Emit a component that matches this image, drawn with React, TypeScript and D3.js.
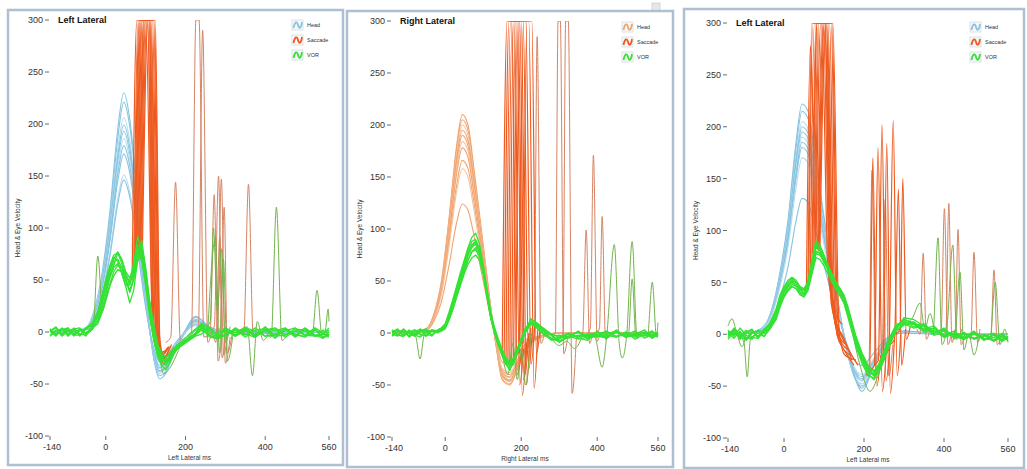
import React from "react";
import * as d3 from "d3";

type Pt = [number, number];

// shared time grids (ms)
const HEAD_T = [-140, -80, -50, -30, -10, 10, 30, 45, 60, 75, 90, 105, 120, 135, 150, 170, 195, 225, 260, 300, 400, 560];
const VOR_T = [-140, -125, -110, -95, -80, -65, -50, -35, -20, -10, 0, 10, 20, 30, 40, 50, 60, 70, 80, 90, 100, 110, 120, 130, 140, 150, 160, 170, 180, 195, 210, 225, 240, 260, 280, 300, 325, 350, 375, 400, 425, 450, 475, 500, 525, 545, 560];
const X_TICKS = [-140, 0, 200, 400, 560];
const Y_TICKS = [-100, -50, 0, 50, 100, 150, 200, 250, 300];
const LEGEND = ["Head", "Saccade", "VOR"];

// ---- panel 1 : Left Lateral ----
const head1 = [
  [0, 1, 4, 20, 55, 115, 195, 230, 205, 150, 80, 20, -25, -45, -40, -22, -3, 10, 4, 0, -1, 0],
  [0, 0, 3, 18, 52, 108, 186, 221, 198, 146, 76, 18, -24, -42, -38, -20, -2, 14, 5, 0, 0, 0],
  [0, 1, 4, 19, 50, 103, 176, 206, 184, 135, 70, 17, -22, -40, -35, -19, -3, 9, 3, 0, -1, 0],
  [0, 1, 3, 17, 48, 100, 169, 199, 178, 130, 69, 16, -21, -38, -34, -18, -3, 8, 3, 0, 0, 0],
  [0, 0, 3, 16, 46, 97, 164, 193, 172, 126, 66, 16, -20, -37, -33, -18, -2, 11, 4, 0, -1, 0],
  [0, 1, 3, 16, 44, 93, 158, 186, 166, 122, 64, 15, -20, -35, -31, -17, -2, 8, 3, 0, 0, 0],
  [0, 1, 3, 15, 42, 90, 152, 179, 160, 117, 61, 15, -19, -34, -30, -16, -2, 7, 2, 0, -1, 0],
  [0, 1, 3, 15, 40, 86, 145, 171, 153, 112, 58, 14, -18, -32, -29, -15, -2, 12, 4, 0, 0, 0],
  [0, 1, 2, 13, 36, 76, 128, 151, 135, 99, 52, 13, -16, -29, -26, -14, -2, 6, 2, 0, 0, 0],
  [0, 1, 2, 12, 34, 72, 123, 146, 130, 95, 50, 12, -15, -28, -25, -13, -1, 15, 5, 0, 0, 0],
];
const vor1 = [
  [0, 4, -3, 2, -4, 3, -1, 4, 15, 28, 42, 58, 68, 70, 62, 48, 45, 60, 82, 72, 48, 20, -2, -18, -25, -27, -24, -18, -14, -10, -6, -2, 5, -3, -6, 2, -4, 3, -5, 2, -6, 3, -4, 4, -3, -6, 0],
  [3, -3, 4, -2, 3, -4, 4, 8, 20, 35, 50, 64, 74, 76, 66, 52, 40, 52, 75, 88, 62, 28, 4, -14, -22, -30, -28, -20, -12, -8, -2, 3, 8, 4, -2, 4, -1, 4, -3, 5, -4, 3, -2, -5, 2, -2, 4],
  [-4, 1, 3, -3, 4, -2, -3, 2, 12, 22, 36, 52, 62, 66, 58, 44, 28, 40, 70, 80, 58, 26, 0, -20, -30, -32, -26, -19, -15, -11, -5, -1, 8, -1, -5, 4, -3, 2, -4, 1, 3, -5, 1, -3, 4, -1, -4],
  [1, 5, -2, 4, -3, -3, 3, 7, 18, 32, 48, 62, 72, 68, 56, 44, 50, 66, 92, 78, 50, 16, -6, -22, -28, -26, -20, -16, -12, -9, -7, -3, 4, -5, -6, -2, 3, -5, 2, 3, -4, -3, 3, 1, -4, -2, 2],
  [3, -3, 2, 4, -2, 3, -4, 6, 14, 26, 40, 55, 64, 76, 70, 56, 48, 55, 76, 70, 44, 14, -8, -24, -32, -36, -30, -22, -16, -10, -4, 2, 6, 1, -3, -4, 4, -2, -5, 3, 1, 4, -3, -4, 3, -6, -2],
  [-3, 2, -4, 1, 3, 4, -2, 4, 10, 20, 32, 46, 58, 64, 62, 54, 46, 58, 78, 84, 60, 30, 6, -12, -20, -24, -22, -17, -13, -9, -6, -2, 3, 3, -4, 1, -3, 4, 1, -4, -2, 3, -5, 2, -3, -4, -5],
  [2, -2, 3, -4, 1, -3, 4, 6, 16, 30, 46, 60, 70, 77, 70, 58, 52, 62, 84, 80, 54, 22, -4, -20, -27, -29, -25, -19, -15, -11, -7, -3, 2, -3, -7, -3, 2, -3, 4, -4, -3, 1, 4, -3, -4, 2, -3],
  [1, -4, 3, 2, -3, 1, 3, 3, 8, 18, 30, 44, 54, 60, 58, 50, 38, 50, 68, 74, 52, 24, 2, -16, -24, -28, -26, -20, -16, -12, -8, -4, -2, 4, -4, 2, -4, 1, -3, 2, 4, -3, 1, 3, -4, -2, -4],
];
const saccade1: Pt[][] = [
  [[66, 50], [78, 300], [100, 300], [118, 0], [132, -20], [150, -18]],
  [[70, 58], [81, 300], [104, 300], [122, 0], [136, -25], [155, -15]],
  [[72, 62], [84, 300], [108, 300], [124, 10], [134, -22], [150, -20]],
  [[74, 66], [86, 300], [110, 300], [126, 0], [138, -28], [160, -16]],
  [[76, 70], [88, 300], [112, 300], [128, 5], [140, -20], [158, -14]],
  [[78, 75], [90, 300], [114, 300], [129, -5], [140, -26], [165, -18]],
  [[80, 80], [92, 300], [117, 300], [131, 0], [142, -22], [160, -14]],
  [[82, 78], [95, 300], [120, 300], [133, -10], [145, -30], [170, -15]],
  [[84, 72], [96, 300], [122, 300], [135, -5], [146, -24], [165, -12]],
  [[86, 80], [98, 300], [124, 300], [136, -12], [150, -28], [175, -15]],
  [[88, 70], [100, 300], [106, 300], [116, 20], [130, -18]],
  [[90, 76], [103, 300], [109, 300], [119, 0], [133, -24]],
  [[92, 80], [106, 300], [111, 300], [121, -8], [138, -20]],
];
const thinSaccade1: Pt[][] = [
  [[150, -10], [163, -5], [175, 144], [187, -8], [200, -5]],
  [[205, -3], [215, 0], [226, 300], [234, 300], [246, -5], [258, -2]],
  [[222, 2], [232, 0], [243, 290], [256, -10], [266, 0]],
  [[252, -5], [262, 0], [272, 132], [282, -28], [292, 0]],
  [[262, 0], [272, 5], [283, 150], [292, -25], [300, -5]],
  [[270, -5], [280, 0], [290, 147], [300, -30], [312, -5]],
  [[278, 0], [288, 5], [297, 120], [305, -20], [318, 0]],
  [[268, 0], [276, -10], [286, 92], [296, -22], [306, 0]],
  [[335, 0], [346, -3], [358, 142], [370, -5], [385, 0]],
];
const olive1: Pt[][] = [
  [[-50, 0], [-32, 3], [-20, 73], [-8, 20], [5, 45], [20, 65]],
  [[240, 0], [262, 10], [270, 100], [280, 20], [290, 80], [300, -10], [312, 5]],
  [[255, -5], [275, 90], [285, -20], [295, 70], [305, -28], [320, 0]],
  [[330, 0], [355, 5], [368, -42], [380, 10], [395, -8], [410, 0]],
  [[400, 0], [415, -5], [428, 120], [442, -8], [460, 0]],
  [[505, 0], [518, -3], [530, 40], [542, -2], [550, 0], [558, 22], [560, 10]],
  [[90, 70], [110, 30], [130, -10], [145, -40], [160, -35], [185, -15]],
];

// ---- panel 2 : Right Lateral ----
const head2 = [
  [0, 1, 4, 18, 50, 110, 180, 210, 200, 160, 115, 70, 25, -15, -45, -50, -30, -10, -3, 0, 0, 0],
  [0, 1, 4, 17, 48, 107, 176, 205, 195, 156, 112, 68, 24, -14, -44, -49, -29, -10, -3, 0, 0, 0],
  [0, 1, 3, 17, 47, 104, 171, 200, 190, 152, 109, 66, 23, -14, -42, -47, -28, -9, -3, 0, 0, 0],
  [0, 0, 3, 16, 46, 102, 167, 195, 185, 148, 106, 64, 22, -13, -41, -46, -27, -9, -2, 0, 0, 0],
  [0, 1, 3, 16, 45, 99, 163, 190, 180, 144, 103, 62, 21, -13, -40, -45, -26, -9, -2, 0, 0, 0],
  [0, 1, 3, 15, 43, 96, 158, 184, 175, 140, 100, 60, 20, -12, -39, -43, -25, -8, -2, 0, 0, 0],
  [0, 1, 3, 15, 42, 93, 153, 178, 169, 135, 97, 58, 19, -12, -38, -42, -24, -8, -2, 0, 0, 0],
  [0, 0, 3, 14, 39, 87, 142, 166, 158, 127, 91, 55, 18, -11, -36, -40, -23, -8, -2, 0, 0, 0],
  [0, 1, 3, 13, 37, 83, 136, 158, 150, 120, 86, 52, 17, -10, -34, -38, -22, -7, -2, 0, 0, 0],
  [0, 0, 2, 11, 30, 65, 106, 124, 118, 95, 68, 41, 14, -8, -28, -31, -18, -6, -2, 0, 0, 0],
];
const vor2 = [
  [0, 3, -3, 1, 3, -2, 1, 3, 2, 3, 6, 16, 28, 40, 52, 64, 76, 85, 88, 80, 62, 38, 16, 2, -10, -20, -28, -30, -26, -12, 2, 10, 8, 2, -6, -8, -3, -6, -4, -1, -5, 2, -4, -2, 0, -5, -1],
  [3, -2, 4, -1, -3, 2, 4, -2, 3, 5, 9, 20, 32, 45, 58, 70, 82, 92, 96, 86, 66, 40, 18, 4, -8, -18, -26, -32, -28, -14, 0, 14, 10, 3, -2, -8, -4, 2, -5, -2, 2, -4, 1, -6, -1, 2, -3],
  [-3, 1, 3, -4, 1, 4, -3, 2, 0, 2, 4, 12, 22, 34, 46, 58, 70, 78, 82, 76, 60, 36, 14, 0, -12, -22, -30, -36, -27, -10, 4, 11, 5, -2, -7, -4, 0, -5, -7, 2, -5, 3, -4, -1, 3, -5, 0],
  [1, 4, -2, 3, -3, 1, 3, -3, 3, 4, 8, 18, 30, 42, 55, 68, 80, 88, 90, 82, 64, 40, 17, 3, -9, -19, -27, -29, -24, -10, 3, 12, 9, 4, -2, -9, -3, 1, -6, -2, 1, -3, -2, 2, -5, -1, -3],
  [3, -2, -3, 2, -2, -4, 2, 1, 1, 2, 5, 14, 25, 36, 48, 60, 70, 78, 80, 74, 58, 36, 15, 1, -11, -21, -29, -31, -25, -11, 1, 9, 7, -1, -5, -5, -1, -4, -1, -3, -3, 1, -2, -4, 1, -4, -2],
  [-2, 2, 1, -3, 3, -1, -3, 3, 1, 4, 7, 17, 29, 41, 54, 66, 78, 84, 86, 78, 60, 37, 15, 2, -10, -20, -27, -28, -24, -12, 2, 10, 8, 3, -3, -2, -4, 1, -3, -4, -1, 2, -3, -2, 1, -2, -4],
  [2, -2, -3, 2, -1, 3, -2, -2, 2, 3, 6, 15, 26, 38, 50, 62, 74, 82, 86, 80, 64, 42, 20, 5, -6, -16, -24, -28, -26, -14, 0, 8, 6, 1, -6, -6, -1, -4, -2, -3, -5, 1, -4, 0, -3, 1, -2],
  [-1, -3, 2, 1, -2, 3, 0, 2, 2, 3, 5, 13, 24, 35, 46, 57, 66, 72, 75, 70, 56, 34, 14, 0, -12, -22, -30, -34, -30, -14, 0, 9, 10, 4, -1, -4, -5, -2, -3, 1, -2, -4, 1, -3, -2, -3, 1],
];
const saccade2: Pt[][] = [
  [[150, -20], [163, 300], [175, 300], [190, -40], [200, -20]],
  [[155, -25], [168, 300], [182, 300], [196, -50], [206, -15]],
  [[160, -28], [172, 300], [188, 300], [203, -60], [214, -10]],
  [[165, -30], [176, 300], [192, 300], [206, -45], [216, -5]],
  [[170, -30], [180, 300], [196, 300], [210, -40], [220, 0]],
  [[175, -28], [185, 300], [200, 300], [214, -50], [224, 5]],
  [[180, -26], [190, 300], [205, 300], [220, -35], [230, 8]],
  [[186, -20], [196, 300], [212, 300], [226, -30], [236, 10]],
  [[195, -20], [206, 300], [220, 300], [234, -53], [244, 5]],
  [[205, -10], [215, 300], [228, 300], [240, -20], [250, 5]],
];
const thinSaccade2: Pt[][] = [
  [[225, 0], [234, -5], [242, 285], [252, -10], [262, 0]],
  [[280, -5], [290, 0], [297, 300], [303, 300], [312, -20], [322, -5]],
  [[300, -5], [310, 0], [317, 300], [324, 300], [334, -58], [345, -5]],
  [[355, -5], [362, 0], [371, 99], [380, -10], [388, 0]],
  [[375, 0], [382, 5], [390, 171], [400, -8], [408, 0]],
  [[400, 0], [406, 5], [413, 112], [422, -6], [430, 0]],
];
const olive2: Pt[][] = [
  [[-90, 0], [-78, -3], [-66, -25], [-55, -2], [-40, 0]],
  [[150, -20], [165, -40], [178, -10], [190, -45], [200, -15], [212, -50], [225, 0]],
  [[380, 0], [395, -5], [413, -33], [425, -3], [445, 85], [458, -10], [466, -24], [478, 0], [492, 88], [505, -5], [515, 0]],
  [[470, 0], [482, -2], [492, 52], [502, -4], [520, 0], [532, -4], [545, 49], [556, -3], [560, 10]],
  [[280, -5], [300, -12], [320, -8], [340, -15], [360, -4]],
];

// ---- panel 3 : Left Lateral ----
const head3 = [
  [0, 2, 8, 25, 60, 110, 185, 222, 215, 180, 140, 100, 62, 32, -2, -35, -50, -30, -5, 3, 0, 0],
  [0, 2, 7, 24, 58, 107, 179, 215, 208, 174, 136, 97, 60, 30, -2, -34, -52, -29, -5, 3, 0, 0],
  [0, 1, 7, 23, 55, 102, 171, 205, 198, 166, 129, 92, 57, 29, -2, -33, -48, -28, -5, 2, 0, 0],
  [0, 2, 7, 22, 54, 99, 167, 200, 194, 162, 126, 90, 56, 28, -1, -32, -55, -30, -6, 3, 0, 0],
  [0, 1, 7, 22, 53, 97, 163, 195, 189, 158, 123, 88, 54, 28, -1, -31, -45, -27, -4, 2, 0, 0],
  [0, 2, 7, 21, 51, 94, 158, 190, 184, 154, 120, 86, 53, 27, -1, -30, -44, -26, -4, 2, 0, 0],
  [0, 1, 6, 21, 50, 92, 154, 185, 179, 150, 117, 83, 52, 26, -1, -30, -43, -25, -4, 2, 0, 0],
  [0, 2, 6, 20, 48, 89, 150, 180, 174, 146, 113, 81, 50, 26, -1, -29, -41, -24, -4, 2, 0, 0],
  [0, 1, 6, 19, 46, 84, 141, 170, 165, 138, 107, 77, 47, 24, -1, -27, -39, -23, -4, 2, 0, 0],
  [0, 1, 5, 15, 35, 65, 109, 131, 127, 106, 83, 59, 37, 19, -1, -21, -30, -18, -3, 1, 0, 0],
];
const vor3 = [
  [0, 5, -3, -5, 3, -2, 4, 8, 18, 32, 40, 46, 50, 47, 42, 40, 48, 66, 84, 80, 72, 64, 55, 48, 42, 35, 22, 8, -6, -22, -34, -38, -28, -8, 8, 12, 10, 4, 6, -1, 3, -4, 2, -6, -1, -7, -3],
  [4, -2, 6, -1, -4, 4, 1, 6, 15, 28, 38, 44, 48, 46, 44, 42, 52, 72, 90, 86, 76, 66, 58, 50, 44, 38, 26, 12, -2, -18, -30, -36, -30, -12, 5, 16, 14, 8, 1, 6, -4, 2, -5, -1, -7, -2, -6],
  [-5, 2, -2, 4, -3, -4, 5, 10, 22, 36, 44, 50, 54, 50, 44, 38, 44, 60, 78, 76, 70, 62, 52, 44, 38, 30, 16, 2, -12, -28, -40, -42, -32, -12, 4, 10, 6, 8, -1, 3, -2, -5, 0, -4, -6, -1, -4],
  [2, -4, 3, -6, 1, 3, -2, 7, 16, 30, 42, 48, 52, 50, 46, 44, 50, 68, 86, 82, 74, 65, 57, 50, 43, 36, 24, 10, -4, -20, -33, -40, -30, -10, 6, 14, 11, 5, 8, -2, 1, -3, 3, -5, -3, 0, -6],
  [-1, 4, -5, 2, 5, -3, 3, 9, 20, 34, 42, 47, 51, 48, 40, 36, 46, 64, 80, 78, 70, 62, 54, 46, 40, 33, 20, 6, -8, -24, -36, -40, -26, -6, 9, 13, 7, 9, 1, 5, -3, 0, -4, -2, 1, -5, -3],
  [-3, 6, 0, -4, 2, 1, -2, 5, 14, 26, 36, 42, 46, 44, 40, 39, 46, 62, 80, 78, 71, 63, 56, 49, 43, 36, 23, 9, -5, -21, -32, -36, -27, -7, 7, 11, 12, 3, 6, -2, 1, -5, 2, -4, -5, -2, -6],
  [3, -1, 2, -3, -5, 4, 1, 11, 24, 38, 46, 52, 55, 52, 46, 42, 50, 68, 88, 84, 76, 66, 58, 50, 44, 37, 25, 11, -4, -19, -31, -35, -28, -9, 7, 15, 9, 10, 2, 4, -1, 1, -4, 0, -6, 1, -4],
  [-2, 3, -3, 1, 4, -4, 2, 6, 16, 28, 36, 42, 46, 44, 38, 36, 42, 58, 74, 72, 66, 58, 50, 43, 37, 30, 18, 4, -10, -26, -38, -44, -34, -14, 3, 9, 10, 2, 4, -3, 0, -4, 1, -5, 0, -6, -2],
];
const saccade3: Pt[][] = [
  [[56, 44], [66, 278], [74, 200], [82, 300], [102, 300], [118, 30], [138, 5]],
  [[60, 50], [70, 300], [94, 300], [110, 60], [128, 20], [145, 10]],
  [[62, 55], [72, 300], [98, 300], [114, 50], [132, 10], [150, -5]],
  [[66, 60], [76, 300], [102, 300], [118, 40], [136, 0], [155, -10]],
  [[70, 70], [80, 300], [106, 300], [120, 30], [140, -5], [160, -15]],
  [[72, 78], [83, 300], [110, 300], [124, 20], [142, -10], [165, -20]],
  [[75, 82], [86, 300], [114, 300], [128, 10], [145, 0], [170, -25]],
  [[78, 85], [88, 300], [118, 300], [132, 0], [150, -15], [175, -30]],
  [[80, 84], [92, 300], [120, 300], [134, 15], [152, -20], [180, -25]],
  [[84, 82], [95, 300], [122, 300], [138, 5], [155, -10], [185, -30]],
  [[86, 80], [98, 300], [103, 300], [114, 60], [130, 20]],
  [[88, 82], [101, 300], [106, 300], [118, 40], [135, 5]],
  [[90, 84], [104, 300], [108, 300], [121, 30], [140, 0]],
  [[205, -38], [214, -40], [222, 170], [232, -50], [242, -20]],
  [[215, -35], [226, -30], [235, 180], [246, -55], [256, -15]],
  [[225, -30], [236, -25], [245, 202], [255, -45], [265, -10]],
  [[238, -28], [248, -20], [257, 184], [266, -57], [276, -5]],
  [[250, -20], [262, -15], [273, 206], [283, -40], [292, 0]],
  [[265, -10], [276, -5], [286, 140], [294, -30], [304, 5]],
  [[280, 0], [290, 5], [297, 150], [306, -5], [316, 8]],
];
const thinSaccade3: Pt[][] = [
  [[205, -40], [212, -35], [220, 158], [230, -40], [240, -25]],
  [[235, -30], [245, -20], [253, 130], [262, -40], [272, -10]],
  [[332, 5], [340, 0], [348, 78], [356, -5], [365, 5]],
  [[385, 0], [393, 5], [401, 121], [410, -10], [418, 0]],
  [[398, 0], [405, 5], [412, 126], [420, -8], [428, 5]],
  [[420, 0], [428, -5], [435, 101], [443, -10], [452, 0]],
  [[460, 0], [467, -5], [475, 79], [484, -8], [492, 0]],
  [[510, 0], [517, -5], [525, 62], [533, -10], [545, 0]],
];
const olive3: Pt[][] = [
  [[-125, 0], [-110, -2], [-100, -8], [-92, -41], [-84, -5], [-70, 0]],
  [[-140, 8], [-130, 15], [-120, 4], [-105, -12], [-95, 0]],
  [[300, 10], [320, 15], [340, 30], [352, 5], [365, 20], [375, 5]],
  [[360, 5], [372, 0], [385, 93], [395, -10], [408, 10], [422, 86], [432, -5], [445, 5]],
  [[430, 0], [440, 60], [450, -15], [462, 0], [475, -20], [490, 5]],
  [[505, 0], [515, -5], [528, 50], [540, -10], [552, 5], [560, -8]],
  [[130, 50], [160, 20], [190, -30], [215, -55], [240, -35], [265, -10]],
];

const FONT = "'Liberation Sans', Arial, sans-serif";
const BLUE = ["#86c4e2", "#b7daec"];
const TAN = ["#f0a46e", "#f5c3a0"];
const SACC = "#ee5a1f";
const SACC_THIN = "#d68463";
const VOR = "#34e234";
const OLIVE = "#73b34d";

const panels = [
  {
    id: "p1", left: 50, right: 329, top: 20, bottom: 436,
    frame: [8, 10, 335, 455], title: "Left Lateral", xTitle: "Left Lateral ms",
    legendX: 292, legendY: 20, headColors: BLUE,
    head: head1, vor: vor1, sacc: saccade1, thin: thinSaccade1, olive: olive1,
  },
  {
    id: "p2", left: 392, right: 658, top: 21, bottom: 437,
    frame: [347, 11, 326, 456], title: "Right Lateral", xTitle: "Right Lateral ms",
    legendX: 622, legendY: 22, headColors: TAN,
    head: head2, vor: vor2, sacc: saccade2, thin: thinSaccade2, olive: olive2,
  },
  {
    id: "p3", left: 728, right: 1008, top: 23, bottom: 438,
    frame: [684, 9, 340, 459], title: "Left Lateral", xTitle: "Left Lateral ms",
    legendX: 970, legendY: 22, headColors: BLUE,
    head: head3, vor: vor3, sacc: saccade3, thin: thinSaccade3, olive: olive3,
  },
];

function Panel({ p }: { p: any }) {
  const x = d3.scaleLinear().domain([-140, 560]).range([p.left, p.right]);
  const y = d3.scaleLinear().domain([-100, 300]).range([p.bottom, p.top]);
  const line = d3
    .line<Pt>()
    .x((d) => x(d[0]))
    .y((d) => y(d[1]))
    .curve(d3.curveMonotoneX);
  // eye traces are noisy recordings: keep them as straight segments
  const raw = d3
    .line<Pt>()
    .x((d) => x(d[0]))
    .y((d) => y(d[1]));
  const onGrid = (T: number[], vals: number[]) => T.map((t, i) => [t, vals[i]] as Pt);
  const [fx, fy, fw, fh] = p.frame;
  const legendColors = [p.headColors[0], SACC, VOR];

  return (
    <g>
      <rect x={fx} y={fy} width={fw} height={fh} fill="#fff" stroke="#aebfd1" strokeWidth={2.5} />
      <clipPath id={"clip-" + p.id}>
        <rect x={p.left - 1} y={p.top} width={p.right - p.left + 2} height={p.bottom - p.top} />
      </clipPath>
      <g clipPath={`url(#clip-${p.id})`} fill="none" strokeLinejoin="round">
        {p.head.map((vals: number[], i: number) => (
          <path key={"h" + i} d={line(onGrid(HEAD_T, vals)) || ""} stroke={p.headColors[i % 3 === 2 ? 1 : 0]} strokeWidth={1.1} />
        ))}
        {p.thin.map((pts: Pt[], i: number) => (
          <path key={"t" + i} d={line(pts) || ""} stroke={SACC_THIN} strokeWidth={1} />
        ))}
        {p.sacc.map((pts: Pt[], i: number) => (
          <path key={"s" + i} d={line(pts) || ""} stroke={SACC} strokeWidth={1.2} />
        ))}
        {p.olive.map((pts: Pt[], i: number) => (
          <path key={"o" + i} d={line(pts) || ""} stroke={OLIVE} strokeWidth={1} />
        ))}
        {p.vor.map((vals: number[], i: number) => (
          <path key={"v" + i} d={raw(onGrid(VOR_T, vals)) || ""} stroke={VOR} strokeWidth={1.3} />
        ))}
      </g>

      {/* y axis */}
      {Y_TICKS.map((v) => (
        <g key={"y" + v}>
          <line x1={p.left - 5} x2={p.left - 1} y1={y(v)} y2={y(v)} stroke="#444" strokeWidth={0.8} />
          <text x={p.left - 7} y={y(v)} dy="0.35em" textAnchor="end" fontSize={9} fill="#333" fontFamily={FONT}>
            {String(v)}
          </text>
        </g>
      ))}
      <text
        transform={`translate(${p.left - 30},${(y(-100) + y(300)) / 2}) rotate(-90)`}
        textAnchor="middle" fontSize={6.5} fill="#333" fontFamily={FONT}
      >
        Head &amp; Eye Velocity
      </text>

      {/* x axis */}
      {X_TICKS.map((t) => (
        <g key={"x" + t}>
          <line x1={x(t)} x2={x(t)} y1={p.bottom} y2={p.bottom + 4} stroke="#444" strokeWidth={0.8} />
          <text x={x(t) + (t === -140 ? 2 : 0)} y={p.bottom + 11} dy="0.35em" textAnchor="middle" fontSize={9} fill="#333" fontFamily={FONT}>
            {String(t)}
          </text>
        </g>
      ))}
      <text x={(x(-140) + x(560)) / 2} y={p.bottom + 22} dy="0.35em" textAnchor="middle" fontSize={6.5} fill="#333" fontFamily={FONT}>
        {p.xTitle}
      </text>

      {/* title */}
      <text x={p.left + 8} y={p.top + 3} fontSize={9} fontWeight="bold" fill="#111" fontFamily={FONT}>
        {p.title}
      </text>

      {/* legend */}
      {LEGEND.map((name, i) => {
        const ly = p.legendY + i * 15;
        return (
          <g key={name} transform={`translate(${p.legendX},${ly})`}>
            <rect x={0} y={0} width={11} height={10} fill="#f6f8fa" stroke="#d3dbe4" strokeWidth={0.8} />
            <path d="M1.5,8 C3,1 5,1 6,5 S9,9 10,2" fill="none" stroke={legendColors[i]} strokeWidth={1.8} />
            <text x={15} y={5} dy="0.35em" fontSize={5.5} fill="#333" fontFamily={FONT}>
              {name}
            </text>
          </g>
        );
      })}
    </g>
  );
}

export default function App() {
  return (
    <div style={{ position: "absolute", left: 0, top: 0 }}>
      <svg width={1027} height={469} style={{ display: "block", background: "#fff" }}>
        {panels.map((p) => (
          <Panel key={p.id} p={p} />
        ))}
        <rect x={652} y={3} width={8} height={7} fill="#e4e8ec" stroke="#b8c2cc" strokeWidth={0.6} />
      </svg>
    </div>
  );
}
